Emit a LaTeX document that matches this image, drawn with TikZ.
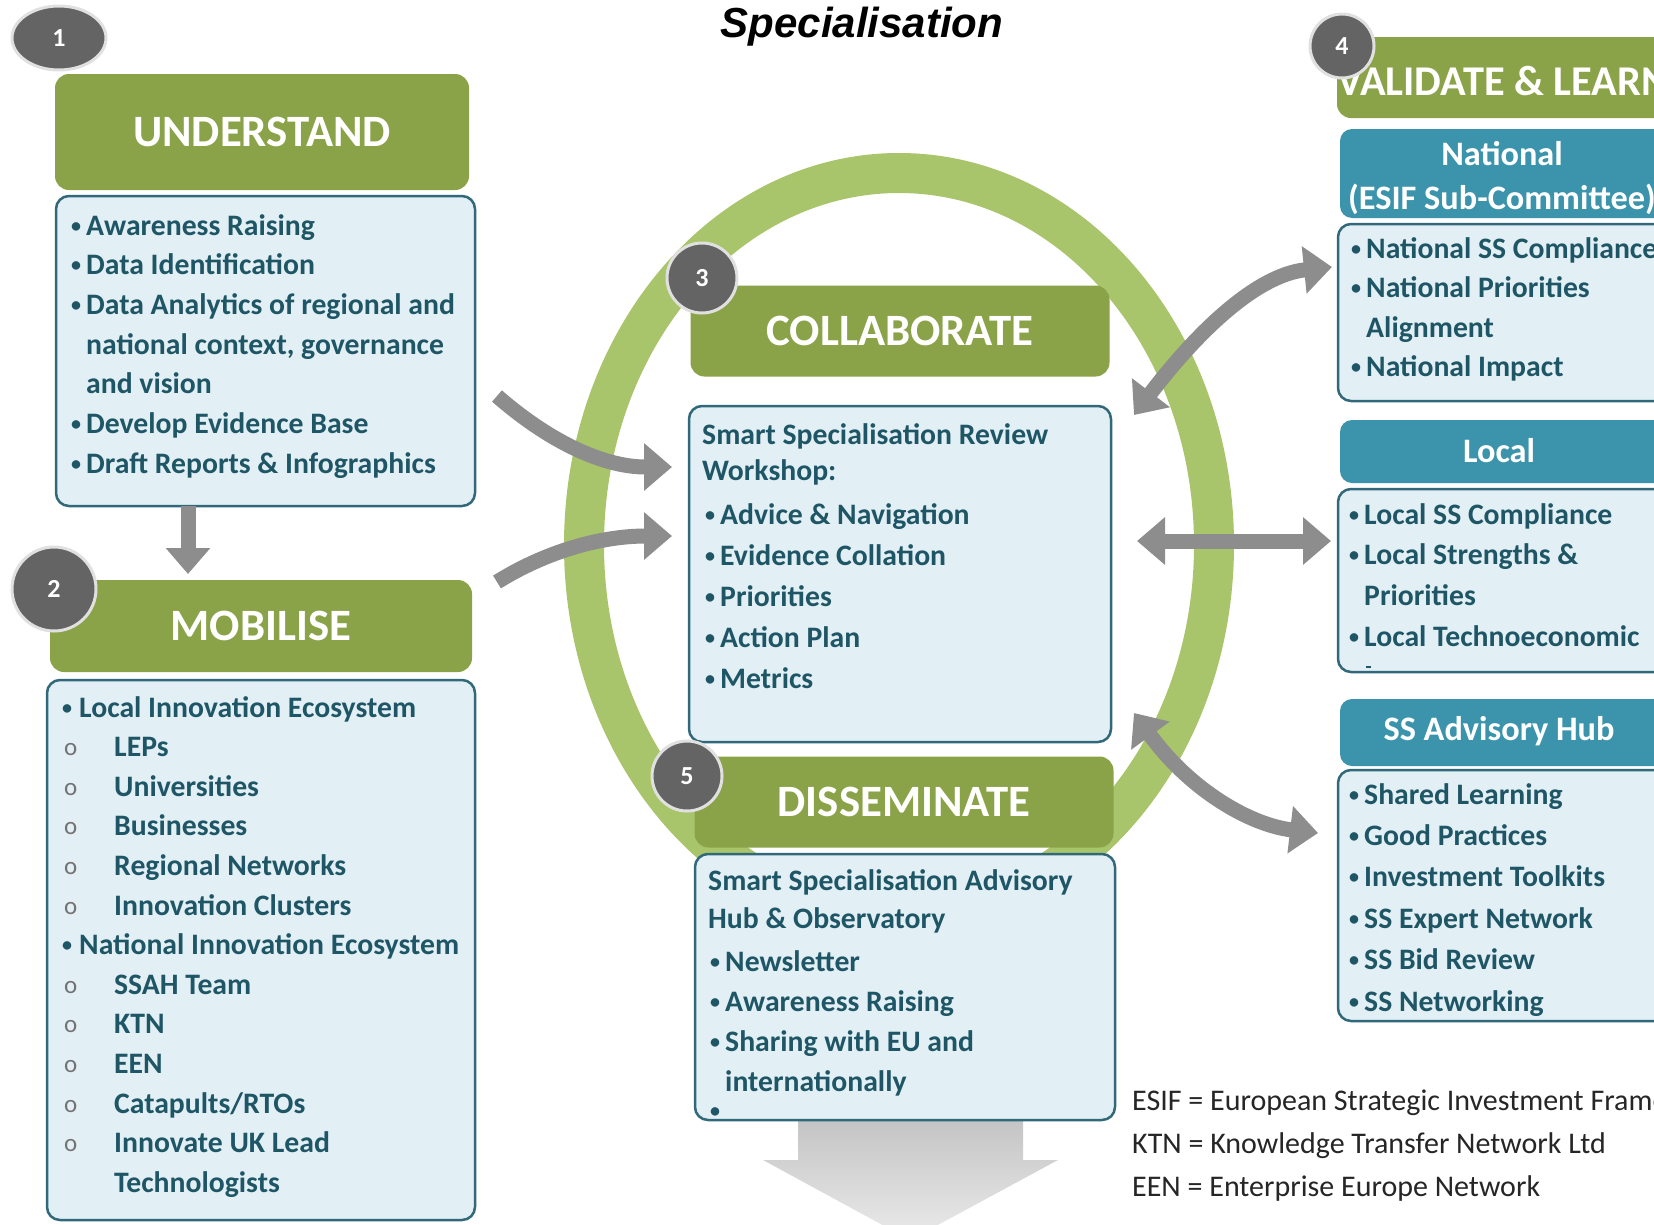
\documentclass[tikz,border=0pt]{standalone}
\usepackage{fontspec}
\setmainfont{Carlito}
\newfontfamily\arialfont{Liberation Sans}
\usetikzlibrary{arrows.meta,shapes.geometric,calc}
\definecolor{hdrgreen}{HTML}{8BA348}
\definecolor{ringgreen}{HTML}{A9C56B}
\definecolor{bodyfill}{HTML}{E2EFF5}
\definecolor{bodyline}{HTML}{31687A}
\definecolor{tealhdr}{HTML}{3B94AC}
\definecolor{txt}{HTML}{1F5666}
\definecolor{badgegray}{HTML}{646464}
\definecolor{arrgray}{HTML}{8D8D8D}
\newcommand{\bu}[1][15pt]{\makebox[#1][l]{\raisebox{3pt}{\fontsize{20}{20}\selectfont\textbullet}}}
\newcommand{\ind}[1][15pt]{\hspace*{#1}}
\newcommand{\ci}{\makebox[52pt][l]{\hspace*{2pt}\raisebox{1pt}{\fontsize{25}{25}\selectfont\mdseries\color{black!55}o}}}
\newcommand{\lns}[2]{\parbox[t]{700pt}{\fontsize{29.7}{#1}\selectfont #2}}
\begin{document}
\begin{tikzpicture}[x=1pt,y=-1pt,
  ghdr/.style={fill=hdrgreen, rounded corners=14pt, inner sep=0pt, text=white, font=\fontsize{44.8}{52}\selectfont\bfseries},
  thdr/.style={fill=tealhdr, rounded corners=12pt, inner sep=0pt},
  thtxt/.style={text=white, inner sep=0pt, align=center, font=\fontsize{34.3}{44}\selectfont\bfseries},
  bodybox/.style={fill=bodyfill, draw=bodyline, line width=2.5pt, rounded corners=13pt, inner sep=0pt},
  tb/.style={anchor=base west, inner sep=0pt, text=txt, font=\bfseries},
  badgenode/.style={circle, fill=badgegray, draw=white!88!black, line width=3pt, inner sep=0pt, text=white, font=\fontsize{26}{26}\selectfont\bfseries},
  garrow/.style={draw=arrgray, line width=15pt, -{Triangle[width=46pt,length=28pt]}},
  gdarrow/.style={draw=arrgray, line width=15pt, {Triangle[width=46pt,length=28pt]}-{Triangle[width=46pt,length=28pt]}},
]
\useasboundingbox (0,0) rectangle (1654,1224);
\clip (0,0) rectangle (1654,1224);
\fill[white] (0,0) rectangle (1654,1224);

% title
\node[anchor=base, inner sep=0pt, font=\arialfont\fontsize{42}{48}\selectfont\bfseries\itshape] (title) at (862,37) {Specialisation};

% green ring
\draw[ringgreen, line width=40pt] (899,545) ellipse [x radius=315, y radius=372];

% big down arrow
\shade[top color=black!24, bottom color=black!8] (798,1112) -- (1023,1112) -- (1023,1160) -- (1058,1160) -- (910,1240) -- (763,1160) -- (798,1160) -- cycle;

% ---- column 1
\node[ghdr, minimum width=414pt, minimum height=116pt] (hU) at (262,132) {UNDERSTAND};
\node[bodybox, minimum width=419pt, minimum height=310pt] (bU) at (265.5,351) {};
\node[tb] (tU) at (71,235) {\lns{39.7}{\bu Awareness Raising\\
\bu Data Identification\\
\bu Data Analytics of regional and\\
\ind national context, governance\\
\ind and vision\\
\bu Develop Evidence Base\\
\bu Draft Reports \& Infographics}};

\node[ghdr, minimum width=422pt, minimum height=92pt] (hM) at (261,626) {MOBILISE};
\node[bodybox, minimum width=428pt, minimum height=540pt] (bM) at (261,950) {};
\node[tb] (tM) at (62,717) {\lns{39.6}{\bu[17pt]Local Innovation Ecosystem\\
\ci LEPs\\
\ci Universities\\
\ci Businesses\\
\ci Regional Networks\\
\ci Innovation Clusters\\
\bu[17pt]National Innovation Ecosystem\\
\ci SSAH Team\\
\ci KTN\\
\ci EEN\\
\ci Catapults/RTOs\\
\ci Innovate UK Lead\\
\ind[52pt]Technologists}};

% ---- centre
\node[ghdr, minimum width=419pt, minimum height=91pt] (hC) at (900,331) {COLLABORATE};
\node[bodybox, minimum width=422pt, minimum height=336pt] (bC) at (900,574) {};
\node[tb] (tC1) at (702,444) {\lns{36}{Smart Specialisation Review\\Workshop:}};
\node[tb] (tC2) at (705,524) {\lns{41}{\bu Advice \& Navigation\\
\bu Evidence Collation\\
\bu Priorities\\
\bu Action Plan\\
\bu Metrics}};

\node[ghdr, minimum width=419pt, minimum height=91pt] (hD) at (904,802) {DISSEMINATE};
\node[bodybox, minimum width=420pt, minimum height=266pt] (bD) at (905,987) {};
\node[tb] (tD1) at (708,890) {\lns{38}{Smart Specialisation Advisory\\Hub \& Observatory}};
\node[tb] (tD2) at (710,971) {\lns{40.3}{\bu Newsletter\\
\bu Awareness Raising\\
\bu Sharing with EU and\\
\ind internationally}};
\node[tb] (tD3) at (710,1120) {\bu};

% ---- right column
\node[ghdr, minimum width=333pt, minimum height=81pt] (hV) at (1503.5,77.5) {};
\node[anchor=west, inner sep=0pt, text=white, font=\fontsize{42.4}{48}\selectfont\bfseries] (tV) at (1337,81) {VALIDATE \& LEARN};

\node[thdr, minimum width=330pt, minimum height=89pt] (hN) at (1505,173.5) {};
\node[thtxt] (tNh) at (1502,178) {National\\(ESIF Sub-Committee)};
\node[bodybox, minimum width=332pt, minimum height=177pt] (bN) at (1504,312.5) {};
\node[tb] (tN) at (1351,258) {\lns{39.5}{\bu National SS Compliance\\
\bu National Priorities\\
\ind Alignment\\
\bu National Impact}};

\node[thdr, minimum width=330pt, minimum height=63pt] (hL) at (1505,451.5) {};
\node[thtxt] (tLh) at (1499,451) {Local};
\node[bodybox, minimum width=332pt, minimum height=183pt] (bL) at (1504,580.5) {};
\node[tb] (tL) at (1349,524) {\lns{40.7}{\bu Local SS Compliance\\
\bu Local Strengths \&\\
\ind Priorities\\
\bu Local Technoeconomic}};
\draw[txt, line width=1.5pt] (1366,667) -- (1371,667);

\node[thdr, minimum width=330pt, minimum height=67pt] (hH) at (1505,732.5) {};
\node[thtxt] (tHh) at (1499,731) {SS Advisory Hub};
\node[bodybox, minimum width=332pt, minimum height=251pt] (bH) at (1504,895.5) {};
\node[tb] (tH) at (1349,804) {\lns{41.4}{\bu Shared Learning\\
\bu Good Practices\\
\bu Investment Toolkits\\
\bu SS Expert Network\\
\bu SS Bid Review\\
\bu SS Networking}};

% legend
\node[anchor=base west, inner sep=0pt, text=black!85] (leg) at (1132,1110) {\parbox[t]{600pt}{\fontsize{30}{43}\selectfont ESIF = European Strategic Investment Frame\\KTN = Knowledge Transfer Network Ltd\\EEN = Enterprise Europe Network}};

% ---- arrows
\coordinate (d1s) at (188,506);
\coordinate (d1e) at (188,574);
\draw[draw=arrgray, line width=15pt, -{Triangle[width=43pt,length=26pt]}] (d1s) -- (d1e);

\coordinate (l1s) at (497,396);
\coordinate (l1e) at (672,467);
\draw[garrow] (l1s) .. controls (545,438) and (600,467) .. (l1e);
\coordinate (l2s) at (497,582);
\coordinate (l2e) at (672,536);
\draw[garrow] (l2s) .. controls (545,552) and (600,536) .. (l2e);

\coordinate (r1a) at (1134,415);
\coordinate (r1b) at (1332,267);
\draw[gdarrow] (r1a) .. controls (1195,335) and (1255,275) .. (r1b);
\coordinate (r2a) at (1137,541);
\coordinate (r2b) at (1331,541);
\draw[gdarrow] (r2a) -- (r2b);
\coordinate (r3a) at (1134,713);
\coordinate (r3b) at (1318,833);
\draw[gdarrow] (r3a) .. controls (1190,790) and (1250,825) .. (r3b);

% ---- badges
\node[badgenode, ellipse, minimum width=94pt, minimum height=64pt] (n1) at (59,38) {1};
\node[badgenode, minimum size=84pt] (n2) at (54,589) {2};
\node[badgenode, minimum size=70pt] (n3) at (702,278) {3};
\node[badgenode, minimum size=64pt] (n4) at (1342,46) {4};
\node[badgenode, minimum size=70pt] (n5) at (687,776) {5};
\end{tikzpicture}
\end{document}
